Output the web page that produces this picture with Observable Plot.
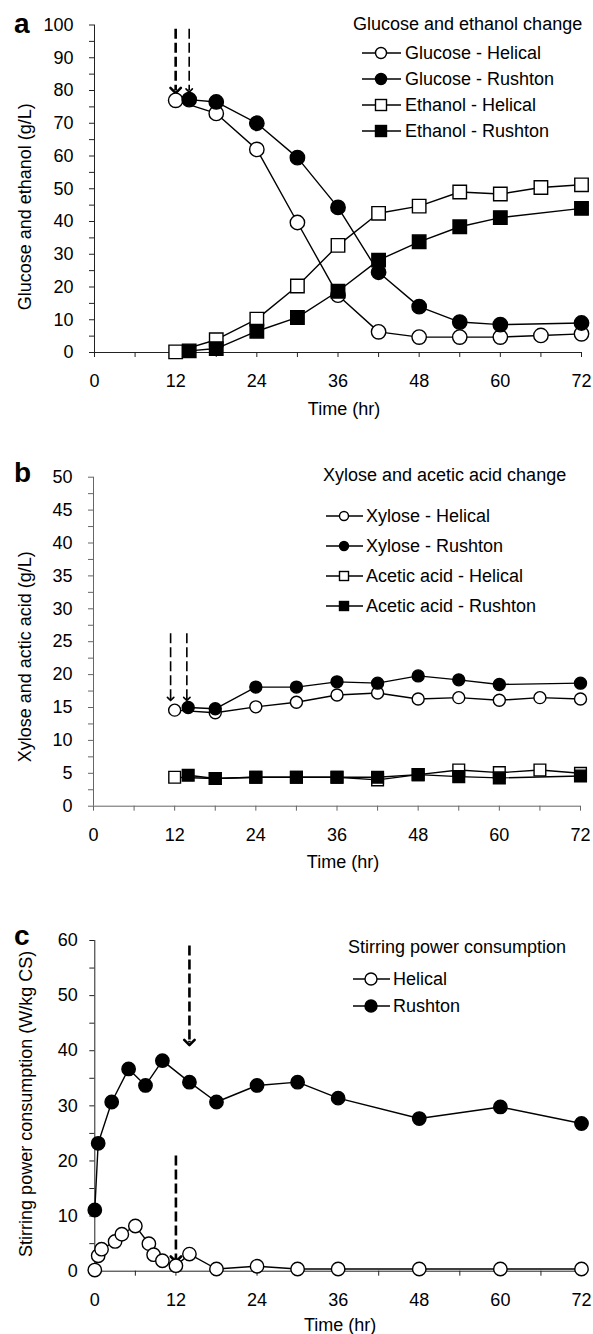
<!DOCTYPE html>
<html><head><meta charset="utf-8">
<script src="https://cdn.jsdelivr.net/npm/d3@7"></script>
<script src="https://cdn.jsdelivr.net/npm/@observablehq/plot@0.6"></script>
<style>
body{margin:0;background:#fff;}
#chart{width:593px;}
#chart svg{display:block;}
</style></head><body><div id="chart"></div>
<script>
const FONT = "'Liberation Sans', Arial, Helvetica, sans-serif";
const FS = 18;

// ---------- tick arrays ----------
const timeTicks = [0, 6, 12, 18, 24, 30, 36, 42, 48, 54, 60, 66, 72];
const timeLabels = [0, 12, 24, 36, 48, 60, 72];
const yTicksA = [0, 5, 10, 15, 20, 25, 30, 35, 40, 45, 50, 55, 60, 65, 70, 75, 80, 85, 90, 95, 100];
const yLabelsA = [0, 10, 20, 30, 40, 50, 60, 70, 80, 90, 100];
const yTicksB = [0, 2.5, 5, 7.5, 10, 12.5, 15, 17.5, 20, 22.5, 25, 27.5, 30, 32.5, 35, 37.5, 40, 42.5, 45, 47.5, 50];
const yLabelsB = [0, 5, 10, 15, 20, 25, 30, 35, 40, 45, 50];
const yTicksC = [0, 5, 10, 15, 20, 25, 30, 35, 40, 45, 50, 55, 60];
const yLabelsC = [0, 10, 20, 30, 40, 50, 60];

// ---------- panel a: glucose & ethanol ----------
const namesA = ["Glucose - Helical", "Glucose - Rushton", "Ethanol - Helical", "Ethanol - Rushton"];
const timeHelicalA = [12, 18, 24, 30, 36, 42, 48, 54, 60, 66, 72];
const timeRushtonA = [14, 18, 24, 30, 36, 42, 48, 54, 60, 72];
const glucoseHelical = [77, 73, 62, 39.7, 17.5, 6.3, 4.7, 4.7, 4.7, 5.2, 5.7];
const glucoseRushton = [77.2, 76.5, 70, 59.5, 44.3, 24.5, 14, 9.3, 8.5, 9];
const ethanolHelical = [0.2, 3.9, 10.2, 20.3, 32.7, 42.5, 44.7, 49, 48.4, 50.4, 51.2];
const ethanolRushton = [0.5, 1.2, 6.5, 10.7, 18.7, 28.2, 33.8, 38.4, 41.2, 44];
const arrowTimeA = [12, 14];
const arrowTopA = [98.7, 98.7];
const arrowTipA = [80, 80];

// ---------- panel b: xylose & acetic acid ----------
const namesB = ["Xylose - Helical", "Xylose - Rushton", "Acetic acid - Helical", "Acetic acid - Rushton"];
const timeHelicalB = [12, 18, 24, 30, 36, 42, 48, 54, 60, 66, 72];
const timeRushtonB = [14, 18, 24, 30, 36, 42, 48, 54, 60, 72];
const xyloseHelical = [14.6, 14.2, 15.1, 15.8, 16.9, 17.2, 16.3, 16.5, 16.1, 16.5, 16.3];
const xyloseRushton = [15.0, 14.8, 18.1, 18.1, 18.9, 18.7, 19.8, 19.2, 18.5, 18.7];
const aceticHelical = [4.4, 4.2, 4.4, 4.4, 4.4, 4.0, 4.8, 5.5, 5.1, 5.5, 5.0];
const aceticRushton = [4.7, 4.2, 4.4, 4.4, 4.4, 4.4, 4.8, 4.5, 4.3, 4.6];
const arrowTimeB = [11.4, 13.8];
const arrowTopB = [26.2, 26.2];
const arrowTipB = [16.3, 16.3];

// ---------- panel c: stirring power ----------
const namesC = ["Helical", "Rushton"];
const timeHelicalC = [0, 0.5, 1, 3, 4, 6, 8, 8.7, 10, 12, 14, 18, 24, 30, 36, 48, 60, 72];
const powerHelical = [0.2, 2.8, 4.0, 5.4, 6.7, 8.2, 5.0, 3.0, 1.9, 1.0, 3.1, 0.4, 0.9, 0.4, 0.4, 0.4, 0.4, 0.4];
const timeRushtonC = [0, 0.5, 2.5, 5, 7.5, 10, 14, 18, 24, 30, 36, 48, 60, 72];
const powerRushton = [11.1, 23.2, 30.7, 36.7, 33.7, 38.2, 34.3, 30.7, 33.7, 34.3, 31.4, 27.7, 29.8, 26.8];
const arrowTimeC = [14, 12];
const arrowTopC = [59, 20.9];
const arrowTipC = [41.5, 2.2];

const titles = ["Glucose and ethanol change", "Xylose and acetic acid change", "Stirring power consumption"];
const yTitles = ["Glucose and ethanol (g/L)", "Xylose and actic acid (g/L)", "Stirring power consumption (W/kg CS)"];
const xTitle = "Time (hr)";
const letters = ["a", "b", "c"];

const rows = (t, v) => t.map((x, i) => ({t: x, v: v[i]}));
const arrowRows = (t, top, tip) => t.map((x, i) => ({t: x, top: top[i], tip: tip[i]}));

function makePanel(c) {
  const marks = [
    Plot.ruleY([0], {stroke: c.axisColor, strokeWidth: 1, dx: 0}),
    Plot.ruleX([0], {stroke: c.axisColor, strokeWidth: 1}),
    Plot.axisX({ticks: timeTicks, tickSize: 5, tickPadding: 17, label: null, fontSize: FS,
      stroke: c.axisColor, fill: "black",
      tickFormat: d => timeLabels.includes(d) ? String(d) : ""}),
    Plot.axisY({ticks: c.yTicks, tickSize: 5, tickPadding: c.yPad, label: null, fontSize: FS,
      stroke: c.axisColor, fill: "black",
      tickFormat: d => c.yLabels.includes(d) ? String(d) : ""}),
    Plot.text([c.yTitle], {text: d => d, frameAnchor: "left", textAnchor: "middle", lineAnchor: "middle",
      rotate: -90, dx: c.yTitleDx, dy: c.yTitleDy, fontSize: FS, fill: "black"}),
    Plot.text([xTitle], {text: d => d, frameAnchor: "bottom", textAnchor: "middle", dx: c.xTitleDx, dy: c.xTitleDy,
      lineAnchor: "middle", fontSize: FS, fill: "black"})
  ];
  // arrows
  const ar = c.arrows;
  marks.push(Plot.ruleX(ar, {x: "t", y1: "top", y2: "tip", stroke: "black",
    strokeWidth: (d, i) => c.arrowWidths[i], strokeDasharray: "10,4"}));
  marks.push(Plot.link(ar, {x1: "t", x2: "t", y1: d => d.tip + c.eps, y2: "tip", stroke: "black",
    strokeWidth: (d, i) => c.arrowWidths[i], markerEnd: "arrow"}));
  // lines
  c.series.forEach(s => marks.push(Plot.line(s.data, {x: "t", y: "v", stroke: "black", strokeWidth: 1.4})));
  // dots
  c.series.forEach(s => marks.push(Plot.dot(s.data, {x: "t", y: "v",
    r: s.symbol === "square" ? c.sq : c.r, symbol: s.symbol,
    fill: s.fill, stroke: "black", strokeWidth: 1.4})));
  const svg = Plot.plot({
    width: 593, height: c.height,
    marginLeft: c.ml, marginRight: c.mr, marginTop: c.mt, marginBottom: c.mb,
    x: {domain: [0, 72]}, y: {domain: c.yDomain},
    style: {fontFamily: FONT, fontSize: FS + "px", color: "black", background: "white", overflow: "visible"},
    marks
  });
  // legend + panel letter
  const g = d3.select(svg).append("g").attr("font-family", FONT).attr("fill", "black").attr("text-anchor", "start");
  g.append("text").attr("x", 14).attr("y", c.letterY).attr("font-size", 28).attr("font-weight", "bold")
    .attr("text-anchor", "start").text(c.letter);
  const L = c.legend;
  g.append("text").attr("x", L.titleX).attr("y", L.titleY).attr("dy", "0.35em").attr("font-size", FS)
    .attr("text-anchor", "start").text(L.title);
  c.series.forEach((s, i) => {
    const y = L.y0 + i * L.dy;
    g.append("line").attr("x1", L.x1).attr("x2", L.x2).attr("y1", y).attr("y2", y)
      .attr("stroke", "black").attr("stroke-width", 1.4);
    if (s.symbol === "circle") {
      g.append("circle").attr("cx", L.mx).attr("cy", y).attr("r", L.r)
        .attr("fill", s.fill).attr("stroke", "black").attr("stroke-width", 1.4);
    } else {
      g.append("rect").attr("x", L.mx - L.s / 2).attr("y", y - L.s / 2).attr("width", L.s).attr("height", L.s)
        .attr("fill", s.fill).attr("stroke", "black").attr("stroke-width", 1.4);
    }
    g.append("text").attr("x", L.tx).attr("y", y).attr("dy", "0.35em").attr("font-size", FS)
      .attr("text-anchor", "start").text(s.name);
  });
  return svg;
}

const panelA = makePanel({
  height: 430, ml: 94, mr: 12, mt: 24.5, mb: 78, yDomain: [0, 100],
  yTicks: yTicksA, yLabels: yLabelsA, yPad: 16, axisColor: "#222",
  yTitle: yTitles[0], yTitleDx: -69, yTitleDy: 18, xTitleDx: 6, xTitleDy: 57,
  arrows: arrowRows(arrowTimeA, arrowTopA, arrowTipA), arrowWidths: [2.6, 1.6], eps: 0.4,
  r: 7.2, sq: 7.6, letter: letters[0], letterY: 33,
  series: [
    {name: namesA[0], data: rows(timeHelicalA, glucoseHelical), symbol: "circle", fill: "white"},
    {name: namesA[1], data: rows(timeRushtonA, glucoseRushton), symbol: "circle", fill: "black"},
    {name: namesA[2], data: rows(timeHelicalA, ethanolHelical), symbol: "square", fill: "white"},
    {name: namesA[3], data: rows(timeRushtonA, ethanolRushton), symbol: "square", fill: "black"}
  ],
  legend: {title: titles[0], titleX: 353, titleY: 24, y0: 53, dy: 26, x1: 362, x2: 401, mx: 381, tx: 405, r: 5.5, s: 11}
});

const panelB = makePanel({
  height: 440, ml: 93, mr: 13, mt: 46.7, mb: 64.3, yDomain: [0, 50],
  yTicks: yTicksB, yLabels: yLabelsB, yPad: 16, axisColor: "#666",
  yTitle: yTitles[1], yTitleDx: -68, yTitleDy: 15, xTitleDx: 6, xTitleDy: 56,
  arrows: arrowRows(arrowTimeB, arrowTopB, arrowTipB), arrowWidths: [1.6, 1.6], eps: 0.2,
  r: 6, sq: 6.6, letter: letters[1], letterY: 52,
  series: [
    {name: namesB[0], data: rows(timeHelicalB, xyloseHelical), symbol: "circle", fill: "white"},
    {name: namesB[1], data: rows(timeRushtonB, xyloseRushton), symbol: "circle", fill: "black"},
    {name: namesB[2], data: rows(timeHelicalB, aceticHelical), symbol: "square", fill: "white"},
    {name: namesB[3], data: rows(timeRushtonB, aceticRushton), symbol: "square", fill: "black"}
  ],
  legend: {title: titles[1], titleX: 323, titleY: 45, y0: 86, dy: 30, x1: 326, x2: 363, mx: 344, tx: 366, r: 4.5, s: 9}
});

const panelC = makePanel({
  height: 464, ml: 94.3, mr: 12, mt: 70, mb: 63.3, yDomain: [0, 60],
  yTicks: yTicksC, yLabels: yLabelsC, yPad: 12, axisColor: "#222",
  yTitle: yTitles[2], yTitleDx: -69, yTitleDy: -2, xTitleDx: 2, xTitleDy: 54,
  arrows: arrowRows(arrowTimeC, arrowTopC, arrowTipC), arrowWidths: [2.6, 2.6], eps: 0.3,
  r: 6.7, sq: 7, letter: letters[2], letterY: 75,
  series: [
    {name: namesC[0], data: rows(timeHelicalC, powerHelical), symbol: "circle", fill: "white"},
    {name: namesC[1], data: rows(timeRushtonC, powerRushton), symbol: "circle", fill: "black"}
  ],
  legend: {title: titles[2], titleX: 348, titleY: 77, y0: 109, dy: 27, x1: 353, x2: 390, mx: 371, tx: 393, r: 6, s: 11}
});

const root = document.getElementById("chart");
root.append(panelA, panelB, panelC);
</script></body></html>
